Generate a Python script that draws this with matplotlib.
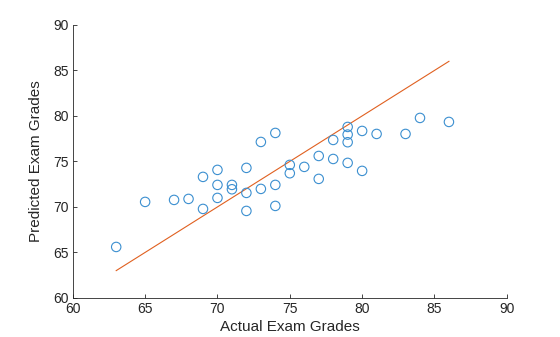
import matplotlib
matplotlib.use("Agg")
import matplotlib.pyplot as plt

plt.rcParams["font.family"] = ["Liberation Sans", "DejaVu Sans"]

# ── Dati ─────────────────────────────────────────────────────────────────────
actual = [63, 65, 67, 68, 69, 69, 70, 70, 70, 71, 71, 72, 72, 72,
          73, 73, 74, 74, 74, 75, 75, 76, 77, 77, 78, 78,
          79, 79, 79, 79, 80, 80, 81, 83, 84, 86]
predicted = [65.6, 70.55, 70.77, 70.88, 73.3, 69.78, 74.07, 72.42, 70.99,
             72.42, 71.94, 74.29, 71.54, 69.56, 77.14, 71.98, 78.13, 72.42,
             70.11, 74.62, 73.70, 74.40, 75.60, 73.08, 77.36, 75.27,
             78.79, 77.95, 77.11, 74.84, 78.35, 73.96, 78.02, 78.02,
             79.78, 79.34]
ref_line = [63, 86]
ticks = [60, 65, 70, 75, 80, 85, 90]

fig = plt.figure(figsize=(5.6, 3.37), dpi=100)
ax = fig.add_axes([0.130, 0.116, 0.775, 0.810])

ax.scatter(actual, predicted, s=46, facecolors="none",
           edgecolors="#3b8fd0", linewidths=0.8, zorder=3)
ax.plot(ref_line, ref_line, color="#E06020", linewidth=0.8, zorder=2)

ax.set_xlim(60, 90)
ax.set_ylim(60, 90)
ax.set_xticks(ticks)
ax.set_yticks(ticks)
ax.tick_params(direction="in", length=3, width=0.6, labelsize=10,
               colors="#262626", labelcolor="#262626", pad=3)
for side in ("top", "right"):
    ax.spines[side].set_visible(False)
for side in ("left", "bottom"):
    ax.spines[side].set_linewidth(0.6)
    ax.spines[side].set_color("#262626")

ax.set_xlabel("Actual Exam Grades", fontsize=11, color="#262626", labelpad=3)
ax.set_ylabel("Predicted Exam Grades", fontsize=11, color="#262626", labelpad=7)

fig.savefig("out.png", dpi=100)
